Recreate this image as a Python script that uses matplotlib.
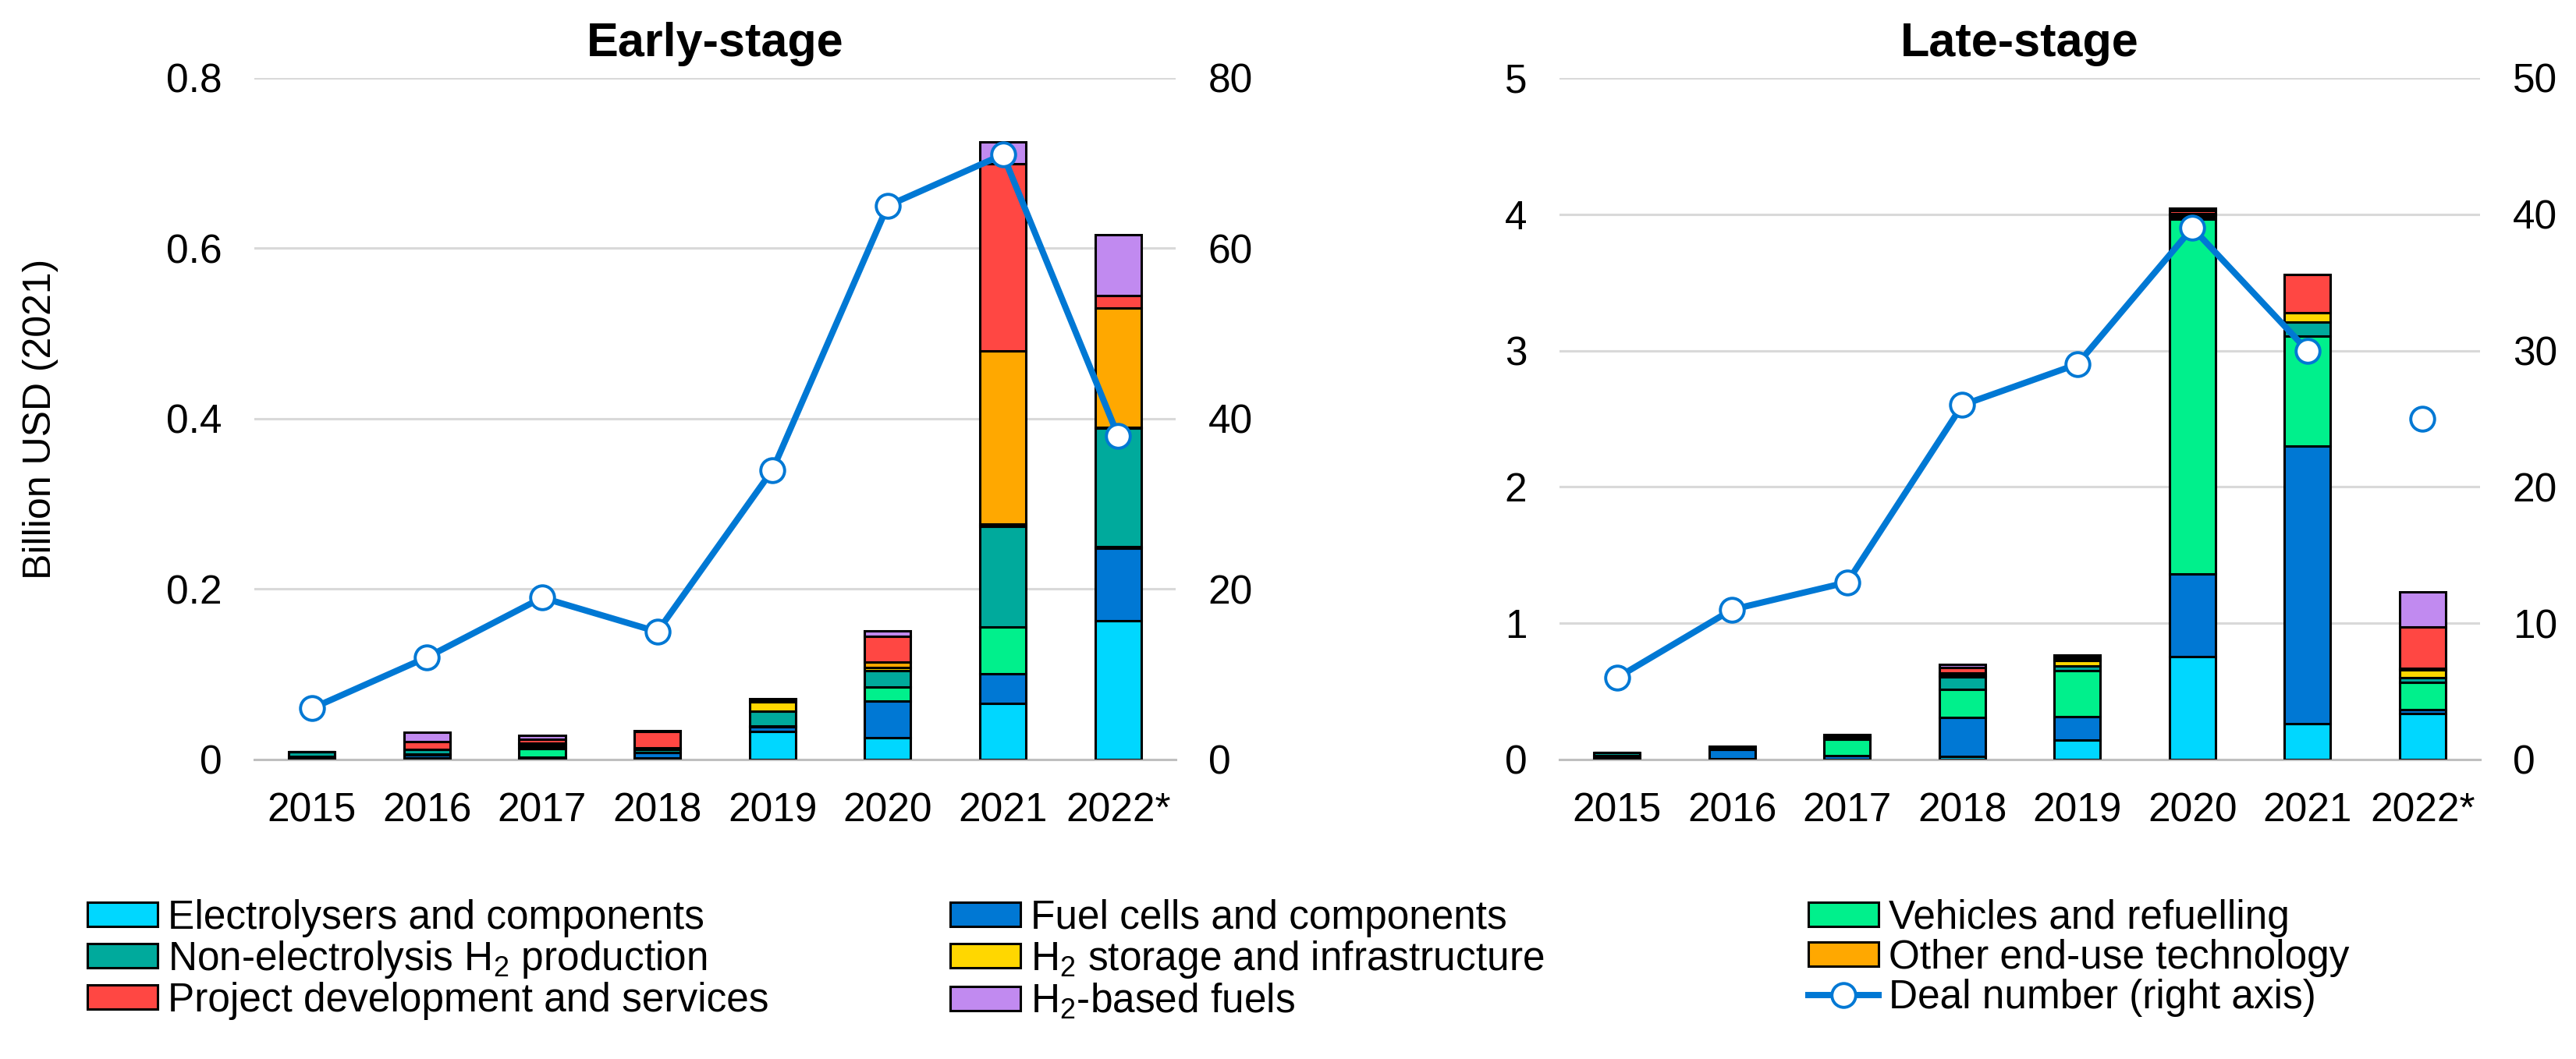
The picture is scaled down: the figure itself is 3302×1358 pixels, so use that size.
import numpy as np
import matplotlib
matplotlib.use("Agg")
import matplotlib.pyplot as plt
from matplotlib.patches import Patch
from matplotlib.lines import Line2D

plt.rcParams['font.family'] = ['Liberation Sans', 'DejaVu Sans']
plt.rcParams['mathtext.fontset'] = 'custom'
plt.rcParams['mathtext.rm'] = 'Liberation Sans'
plt.rcParams['mathtext.default'] = 'regular'

# %%
years = ['2015', '2016', '2017', '2018', '2019', '2020', '2021', '2022*']

categories = ['Electrolysers and components', 'Fuel cells and components', 'Vehicles and refuelling',
              'Non-electrolysis H$_2$ production', 'H$_2$ storage and infrastructure',
              'Other end-use technology', 'Project development and services', 'H$_2$-based fuels']
colors = ['#00D7FF', '#0078D4', '#00F08C', '#00AA9C', '#FFD700', '#FFA800', '#FF4743', '#C18AF0']

# early-stage, billion USD (2021)
electrolysers_early = [0.001, 0.002, 0.001, 0.002, 0.033, 0.026, 0.066, 0.163]
fuel_cells_early = [0.003, 0.003, 0.002, 0.006, 0.005, 0.043, 0.035, 0.085]
vehicles_early = [0.0, 0.001, 0.010, 0.0, 0.001, 0.016, 0.055, 0.002]
non_elec_early = [0.005, 0.006, 0.002, 0.004, 0.018, 0.019, 0.118, 0.139]
storage_early = [0.0, 0.0, 0.002, 0.0, 0.011, 0.004, 0.002, 0.001]
other_end_use_early = [0.0, 0.0, 0.002, 0.002, 0.0, 0.006, 0.204, 0.140]
project_early = [0.0, 0.009, 0.005, 0.019, 0.002, 0.031, 0.219, 0.015]
h2_fuels_early = [0.0, 0.011, 0.004, 0.001, 0.001, 0.006, 0.026, 0.071]
deals_early = [6, 12, 19, 15, 34, 65, 71, 38]

# late-stage, billion USD (2021)
electrolysers_late = [0.01, 0.005, 0.0, 0.02, 0.14, 0.754, 0.265, 0.335]
fuel_cells_late = [0.02, 0.07, 0.03, 0.287, 0.174, 0.607, 2.034, 0.03]
vehicles_late = [0.0, 0.0, 0.12, 0.21, 0.34, 2.604, 0.808, 0.20]
non_elec_late = [0.02, 0.01, 0.01, 0.09, 0.035, 0.015, 0.10, 0.035]
storage_late = [0.0, 0.0, 0.005, 0.01, 0.035, 0.01, 0.073, 0.06]
other_end_use_late = [0.0, 0.0, 0.005, 0.02, 0.01, 0.015, 0.0, 0.01]
project_late = [0.0, 0.01, 0.01, 0.04, 0.015, 0.02, 0.28, 0.305]
h2_fuels_late = [0.0, 0.0, 0.005, 0.02, 0.015, 0.02, 0.0, 0.255]
deals_late = [6, 11, 13, 26, 29, 39, 30, 25]

early = [electrolysers_early, fuel_cells_early, vehicles_early, non_elec_early,
         storage_early, other_end_use_early, project_early, h2_fuels_early]
late = [electrolysers_late, fuel_cells_late, vehicles_late, non_elec_late,
        storage_late, other_end_use_late, project_late, h2_fuels_late]

fs = 18.5
line_color = '#0078D4'

# %%
fig = plt.figure(figsize=(16.51, 6.79), dpi=200)
ax_l = fig.add_axes([0.0987, 0.2828, 0.3577, 0.6436])
ax_r = fig.add_axes([0.6054, 0.2828, 0.3574, 0.6436])


def plot_panel(ax, stacks, deals, ymax, ystep, rmax, rstep, title, connect_last=True):
    x = np.arange(len(years))
    bottom = np.zeros(len(years))
    for vals, c in zip(stacks, colors):
        ax.bar(x, vals, 0.4, bottom=bottom, color=c, edgecolor='black', linewidth=1.1, zorder=3)
        bottom += np.array(vals)
    ax.set_xlim(-0.5, len(years) - 0.5)
    ax.set_ylim(0, ymax)
    ax.set_yticks(np.arange(0, ymax + ystep / 2, ystep))
    ax.set_xticks(x)
    ax.set_xticklabels(years)
    ax.grid(axis='y', color='#D9D9D9', linewidth=1.1, zorder=0)
    ax.set_axisbelow(True)
    for s in ['left', 'right', 'top']:
        ax.spines[s].set_visible(False)
    ax.spines['bottom'].set_color('#BFBFBF')
    ax.spines['bottom'].set_linewidth(1.1)
    ax.tick_params(axis='both', length=0, labelsize=fs, pad=15)
    ax.set_title(title, fontsize=22, fontweight='bold', pad=10)

    # deal number on right axis
    ax2 = ax.twinx()
    ax2.set_ylim(0, rmax)
    ax2.set_yticks(np.arange(0, rmax + 1, rstep))
    for s in ax2.spines.values():
        s.set_visible(False)
    ax2.tick_params(axis='y', length=0, labelsize=fs, pad=15)
    mk = dict(marker='o', markersize=11, markerfacecolor='white',
              markeredgecolor=line_color, markeredgewidth=1.4)
    if connect_last:
        ax2.plot(x, deals, color=line_color, linewidth=2.9, **mk)
    else:
        ax2.plot(x[:-1], deals[:-1], color=line_color, linewidth=2.9, **mk)
        ax2.plot(x[-1:], deals[-1:], linestyle='none', **mk)
    return ax2


plot_panel(ax_l, early, deals_early, 0.8, 0.2, 80, 20, 'Early-stage')
ax_l.set_yticklabels(['0', '0.2', '0.4', '0.6', '0.8'])
ax_l.set_ylabel('Billion USD (2021)', fontsize=18)
ax_l.yaxis.set_label_coords(-0.2125, 0.5)
plot_panel(ax_r, late, deals_late, 5, 1, 50, 10, 'Late-stage', connect_last=False)

# legend, three columns laid out row by row
handles = [Patch(facecolor=c, edgecolor='black', linewidth=1.1) for c in colors]
deal_handle = Line2D([], [], color=line_color, linewidth=2.9, marker='o', markersize=11,
                     markerfacecolor='white', markeredgecolor=line_color, markeredgewidth=1.4)
columns = [([handles[0], handles[3], handles[6]], [categories[0], categories[3], categories[6]]),
           ([handles[1], handles[4], handles[7]], [categories[1], categories[4], categories[7]]),
           ([handles[2], handles[5], deal_handle], [categories[2], categories[5], 'Deal number (right axis)'])]
col_x = [0.034, 0.369, 0.702]
for (h, l), cx in zip(columns, col_x):
    fig.legend(h, l, loc='upper left', bbox_to_anchor=(cx, 0.151), frameon=False, fontsize=fs,
               handlelength=1.75, handleheight=0.55, handletextpad=0.25, labelspacing=0.04,
               borderaxespad=0, borderpad=0)

fig.savefig('out.png', dpi=200)
